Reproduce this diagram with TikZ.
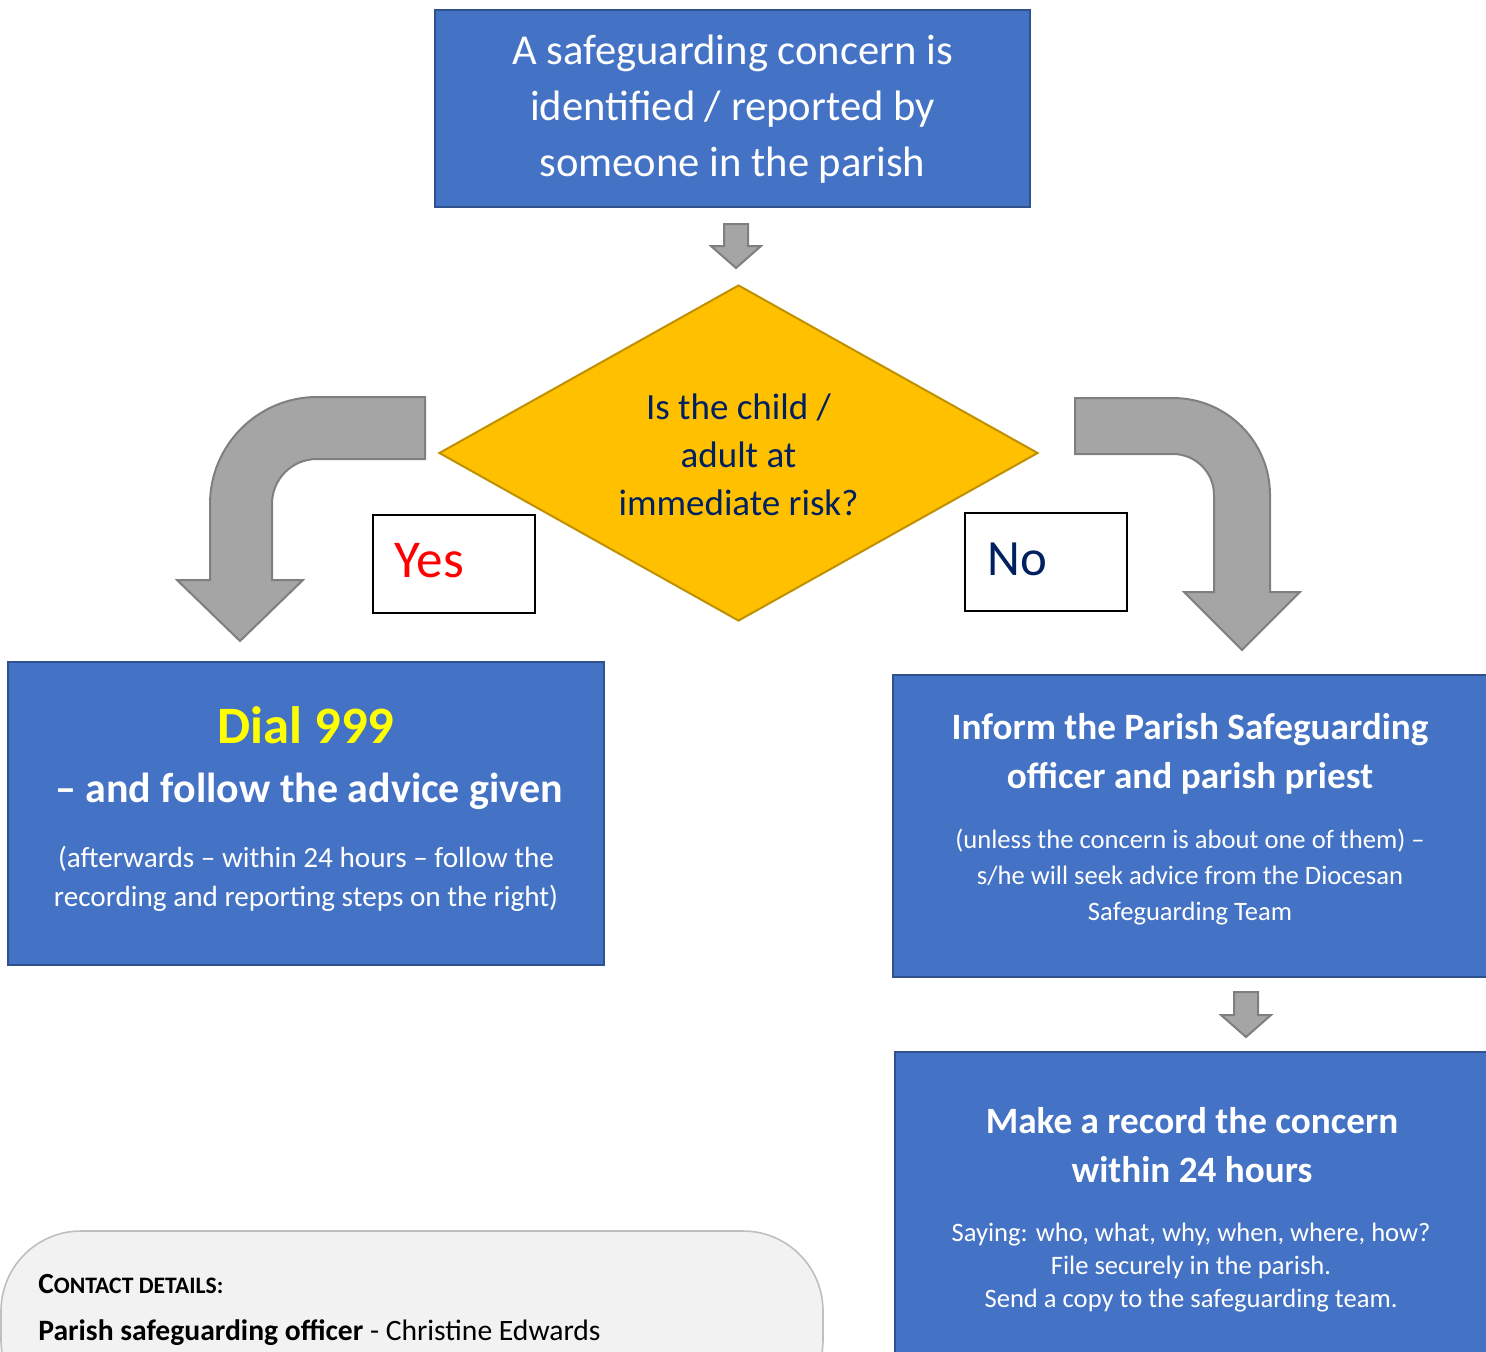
\documentclass[tikz,border=0pt]{standalone}
\usepackage{fontspec}
\setmainfont{Carlito}
\usetikzlibrary{shapes.geometric, positioning}
\definecolor{boxblue}{HTML}{4472C4}
\definecolor{boxedge}{HTML}{2F528F}
\definecolor{riskfill}{HTML}{FFC000}
\definecolor{riskedge}{HTML}{BF9000}
\definecolor{navy}{HTML}{002060}
\definecolor{arrowgray}{HTML}{A5A5A5}
\definecolor{arrowedge}{HTML}{7F7F7F}
\definecolor{contactbg}{HTML}{F2F2F2}
\definecolor{contactedge}{HTML}{BFBFBF}
\definecolor{dialyellow}{HTML}{FFFF00}

\begin{document}
\begin{tikzpicture}[
    x=0.5pt, y=-0.5pt,
    every node/.style={inner sep=0pt},
    bluebox/.style={draw=boxedge, fill=boxblue, line width=1.2pt},
    answer/.style={draw=black, fill=white, line width=1pt, minimum width=81pt, minimum height=49pt},
    blockarr/.style={draw=arrowedge, fill=arrowgray, line width=1pt, line join=miter},
    title/.style={font=\bfseries\fontsize{18.6}{24.5}\selectfont, text=white, align=center},
    small/.style={text=white, align=center}
]
    \useasboundingbox (0,0) rectangle (1486,1351);
    \clip (0,0) rectangle (1486,1351);

    % boxes
    \node[bluebox, minimum width=297.5pt, minimum height=98.5pt] (concern) at (732.5,108.5) {};
    \node[diamond, draw=riskedge, fill=riskfill, line width=1pt, aspect=1.78,
          minimum width=299.5pt, minimum height=168pt] (risk) at (738.5,453) {};
    \node[answer] (yesbox) at (454,564) {};
    \node[answer] (nobox) at (1046,562) {};
    \node[bluebox, minimum width=298pt, minimum height=151.5pt] (dial) at (306,813.5) {};
    \node[bluebox, minimum width=301pt, minimum height=151pt] (inform) at (1194,826) {};
    \node[bluebox, minimum width=300pt, minimum height=174pt] (record) at (1195,1226) {};
    \node[draw=contactedge, fill=contactbg, line width=0.8pt, rounded corners=40pt,
          minimum width=411pt, minimum height=94.5pt] (contact) at (412,1325.5) {};

    % texts
    \node[align=center, text=white, font=\fontsize{21.3}{28}\selectfont] (concerntext) at (732.5,109)
        {A safeguarding concern is\\identified / reported by\\someone in the parish};
    \node[align=center, text=navy, font=\fontsize{18.5}{24}\selectfont] (risktext) at (738.5,455)
        {Is the child /\\adult at\\immediate risk?};
    \node[anchor=west, text=red, font=\fontsize{26.6}{30}\selectfont] (yes) at (394,561) {Yes};
    \node[anchor=west, text=navy, font=\fontsize{25.4}{30}\selectfont] (no) at (987,559) {No};
    \node[font=\bfseries\fontsize{26.3}{31}\selectfont, text=dialyellow] (dialnum) at (306,725) {Dial 999};
    \node[font=\bfseries\fontsize{21}{26}\selectfont, text=white] (dialadvice) at (309,791)
        {-- and follow the advice given};
    \node[small, font=\fontsize{14.6}{19.5}\selectfont] (dialafter) at (306,879)
        {(afterwards -- within 24 hours -- follow the\\recording and reporting steps on the right)};
    \node[title] (informtitle) at (1190,753.5) {Inform the Parish Safeguarding\\officer and parish priest};
    \node[small, font=\fontsize{13.3}{18}\selectfont] (informnote) at (1190,877)
        {(unless the concern is about one of them) --\\s/he will seek advice from the Diocesan\\Safeguarding Team};
    \node[title] (recordtitle) at (1192,1145.5) {Make a record the concern\\within 24 hours};
    \node[small, font=\fontsize{13.3}{16.5}\selectfont] (recordnote) at (1191,1267.5)
        {Saying: who, what, why, when, where, how?\\File securely in the parish.\\Send a copy to the safeguarding team.};
    \node[anchor=west, font=\bfseries] (contacthead) at (38,1284)
        {{\fontsize{14.6}{18}\selectfont C}{\fontsize{11.8}{18}\selectfont ONTACT DETAILS:}};
    \node[anchor=base west, font=\fontsize{14.8}{18}\selectfont] (officer) at (38,1340)
        {\textbf{Parish safeguarding officer} - Christine Edwards};

    % block arrows
    \draw[blockarr] (724,224) -- (748,224) -- (748,246) -- (761,246) -- (736,268)
        -- (711,246) -- (724,246) -- cycle;
    \draw[blockarr] (1234,992) -- (1258,992) -- (1258,1015) -- (1271,1015) -- (1246,1037)
        -- (1221,1015) -- (1234,1015) -- cycle;
    \draw[blockarr] (425,397) -- (317,397) .. controls (258,397) and (210,445) .. (210,504)
        -- (210,580) -- (177,580) -- (240,641) -- (303,580) -- (272,580) -- (272,504)
        .. controls (272,479) and (292,459) .. (317,459) -- (425,459) -- cycle;
    \draw[blockarr] (1075,398) -- (1173,398) .. controls (1226.5,398) and (1270,441.5) .. (1270,495)
        -- (1270,592) -- (1300,592) -- (1242,650) -- (1184,592) -- (1214,592) -- (1214,495)
        .. controls (1214,472.4) and (1195.6,454) .. (1173,454) -- (1075,454) -- cycle;
\end{tikzpicture}
\end{document}
